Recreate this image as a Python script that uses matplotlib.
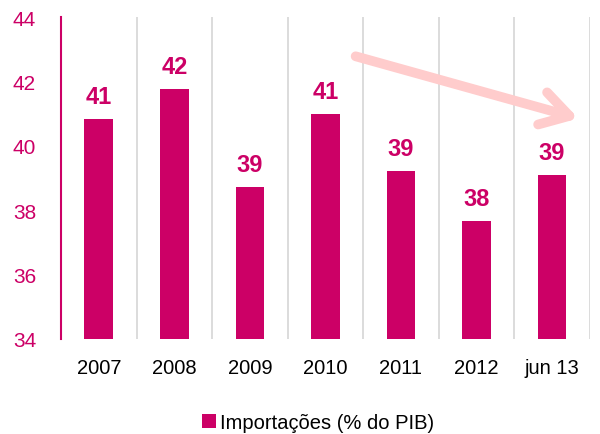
import numpy as np
import matplotlib.pyplot as plt

categories = ['2007', '2008', '2009', '2010', '2011', '2012', 'jun 13']
values = [40.83, 41.76, 38.72, 40.99, 39.22, 37.66, 39.09]
labels = ['41', '42', '39', '41', '39', '38', '39']
series_name = 'Importações (% do PIB)'

magenta = '#CC0066'
plt.rcParams['font.family'] = ['Liberation Sans', 'DejaVu Sans']

fig = plt.figure(figsize=(6, 4.35), dpi=100)
ax = fig.add_axes([0.1017, 0.2184, 0.8813, 0.7402])

x = np.arange(len(categories))
heights = [v - 34 for v in values]
bars = ax.bar(x, heights, width=0.38, bottom=34, color=magenta, label=series_name, zorder=3)

for xi, v, lab in zip(x, values, labels):
    ax.text(xi, v + 0.35, lab, ha='center', va='bottom', color=magenta,
            fontsize=17, fontweight='bold')

ax.set_xlim(-0.5, len(categories) - 0.5)
ax.set_ylim(34, 44)
ax.set_yticks(np.arange(34, 45, 2))
ax.set_xticks(x)
ax.set_xticklabels(categories)
ax.tick_params(axis='y', length=0, pad=18, labelsize=15, labelcolor=magenta)
ax.tick_params(axis='x', length=0, pad=14, labelsize=14.5, labelcolor='black')

for xb in np.arange(0.5, len(categories), 1.0):
    ax.axvline(xb, color='#D9D9D9', lw=1.3, zorder=1)

for s in ['top', 'right', 'bottom']:
    ax.spines[s].set_visible(False)
ax.spines['left'].set_color(magenta)
ax.spines['left'].set_linewidth(1.5)

ax.annotate('', xy=(6.35, 40.85), xytext=(3.4, 42.78),
            arrowprops=dict(arrowstyle='->,head_length=1.0,head_width=0.6',
                            mutation_scale=20,
                            color='#FFCCCC', lw=7, capstyle='round',
                            joinstyle='round', shrinkA=0, shrinkB=0),
            zorder=5)

fig.legend(handles=[bars], labels=[series_name], loc='center',
           bbox_to_anchor=(0.53, 0.027), frameon=False, fontsize=14.5,
           handlelength=0.7, handleheight=0.7, handletextpad=0.2)

fig.savefig('out.png', dpi=100)
